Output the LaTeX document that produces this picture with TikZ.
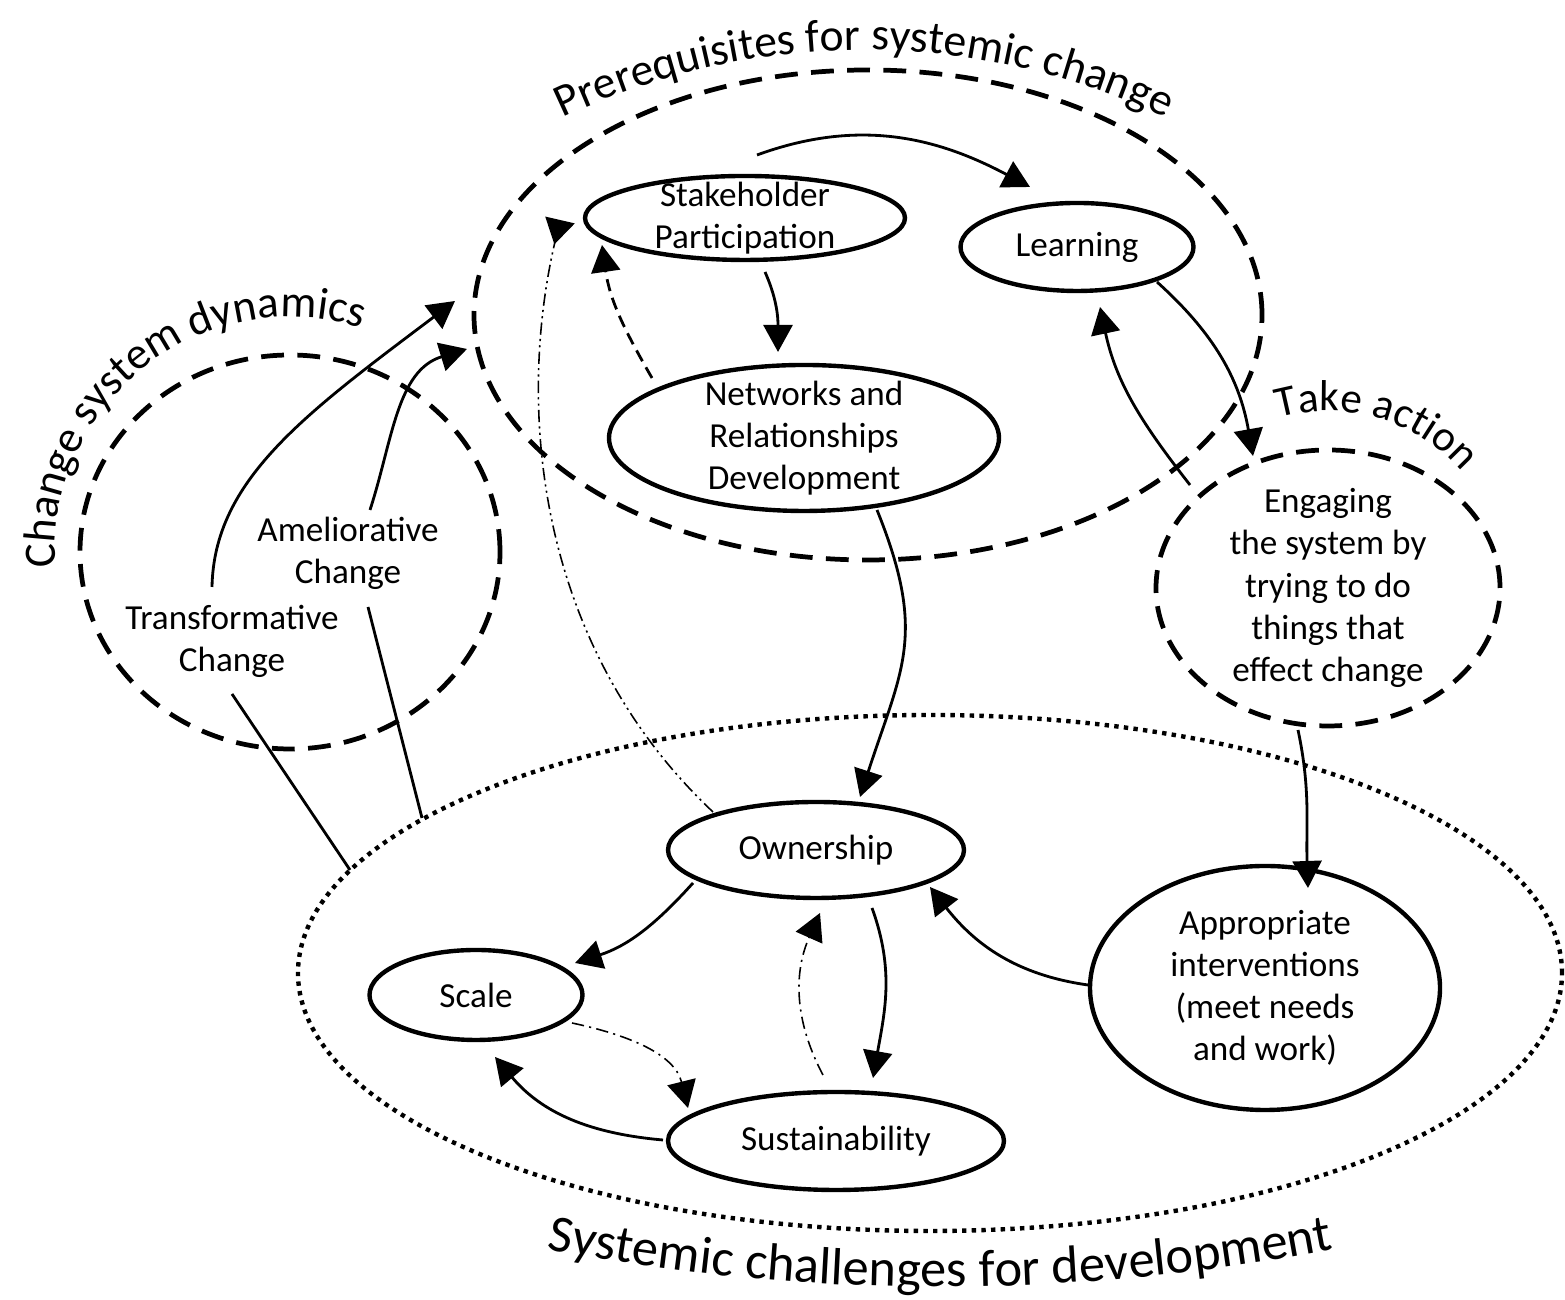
\documentclass[tikz,border=0pt]{standalone}
\usepackage{fontspec}
\setmainfont{Carlito}
\usetikzlibrary{arrows.meta, shapes.geometric, decorations.text}

\newcommand{\fontpre}{\fontsize{13}{15}\selectfont}
\newcommand{\fontcsd}{\fontsize{12.8}{15}\selectfont}
\newcommand{\fontact}{\fontsize{12.3}{15}\selectfont}
\newcommand{\fontchal}{\fontsize{14.9}{17}\selectfont}

\tikzset{
  box/.style={ellipse, draw, line width=1.25pt, inner xsep=0pt, inner ysep=-1.5mm, align=center},
  region/.style={ellipse, draw, line width=1.35pt, dash pattern=on 6.5pt off 3.8pt, inner xsep=0pt, inner ysep=-1.5mm, align=center},
  dots/.style={ellipse, draw, line width=1.25pt, dash pattern=on 1.25pt off 1.5pt},
  dashdot/.style={dash pattern=on 3.5pt off 1.5pt on 0.6pt off 1.5pt},
  dashdotdot/.style={dash pattern=on 3.5pt off 1.2pt on 0.6pt off 1.2pt on 0.6pt off 1.2pt},
  arch/.style={decoration={text along path, text align=center, text={#1}}, decorate}
}

\begin{document}
\begin{tikzpicture}[font=\fontsize{10}{12}\selectfont]
\useasboundingbox (0,0) rectangle (15.65,13);

% regions
\node[region, minimum width=7.88cm, minimum height=4.90cm] (prereq) at (8.68,9.85) {};
\node[region, minimum width=4.20cm, minimum height=3.94cm] (csd) at (2.90,7.48) {};
\node[region, minimum width=3.44cm, minimum height=2.76cm] (act) at (13.28,7.12) {Engaging\\the system by\\trying to do\\things that\\effect change};
\node[dots, minimum width=12.64cm, minimum height=5.16cm] (chal) at (9.30,3.27) {};

% boxes
\node[box, minimum width=3.20cm, minimum height=0.84cm] (sp) at (7.45,10.82) {Stakeholder\\Participation};
\node[box, minimum width=2.33cm, minimum height=0.88cm] (learn) at (10.77,10.53) {Learning};
\node[box, minimum width=3.90cm, minimum height=1.46cm] (net) at (8.04,8.62) {Networks and\\Relationships\\Development};
\node[box, minimum width=2.96cm, minimum height=0.96cm] (own) at (8.16,4.50) {Ownership};
\node[box, minimum width=2.13cm, minimum height=0.90cm] (scale) at (4.76,3.05) {Scale};
\node[box, minimum width=3.36cm, minimum height=0.98cm] (sus) at (8.36,1.59) {Sustainability};
\node[box, minimum width=3.50cm, minimum height=2.44cm] (appr) at (12.65,3.12) {Appropriate\\interventions\\(meet needs\\and work)};

\node[align=center] (amel) at (3.48,7.47) {Ameliorative\\Change};
\node[align=center] (trans) at (2.32,6.59) {Transformative\\Change};

% titles
\path[arch={|\fontpre|Prerequisites for systemic change}] (8.64,5.50) ++(125:7) arc[start angle=125, end angle=55, radius=7];
\path[arch={|\fontcsd|Change system dynamics}] (csd.center) ++(200:2.35) arc[start angle=200, end angle=56, radius=2.35];
\path[arch={|\fontact|Take action}] (act.center) ++(120:1.77) arc[start angle=120, end angle=27, radius=1.77];
\path[arch={|\fontchal|Systemic challenges for development}] (9.40,20.73) ++(255:20.6) arc[start angle=255, end angle=285, radius=20.6];

\begin{scope}[>={Triangle[length=2.7mm,width=2.9mm]}, line width=0.8pt]
    \draw[->] ([shift={(.12,.63)}]sp.center) to[out=20,in=152] ([shift={(-.47,.60)}]learn.center);
    \draw[->] ([shift={(.80,-.35)}]learn.center) to[out=-42,in=100] ([shift={(-.75,1.32)}]act.center);
    \draw[->] ([shift={(-1.38,1.03)}]act.center) to[out=128,in=-78] ([shift={(.23,-.60)}]learn.center);
    \draw[->] ([shift={(.20,-.54)}]sp.center) to[out=-66,in=90] ([shift={(-.26,.86)}]net.center);
    \draw[->, dash pattern=on 3.5pt off 2pt] ([shift={(-1.52,.60)}]net.center) to[out=120,in=-82] ([shift={(-1.43,-.27)}]sp.center);
    \draw[->] ([shift={(.73,-.72)}]net.center) to[out=-68,in=72,looseness=1.2] ([shift={(.44,.53)}]own.center);
    \draw[->] ([shift={(-.30,-1.42)}]act.center) to[out=-78,in=92] ([shift={(.43,1.00)}]appr.center);
    \draw[->] ([shift={(-1.77,.03)}]appr.center) to[out=172,in=-52] ([shift={(1.14,-.37)}]own.center);
    \draw[->] ([shift={(-1.23,-.33)}]own.center) to[out=-132,in=18] ([shift={(.99,.32)}]scale.center);
    \draw[->] ([shift={(.56,-.58)}]own.center) to[out=-70,in=80] ([shift={(.37,.63)}]sus.center);
    \draw[->] ([shift={(-1.73,.01)}]sus.center) to[out=175,in=-50] ([shift={(.19,-.62)}]scale.center);
    \draw[->] ([shift={(-.20,.54)}]trans.center) .. controls +(.02,1.07) and +(-1.50,-1.13) .. ([shift={(-4.13,.14)}]prereq.center);
    \draw[->] ([shift={(.22,.43)}]amel.center) to[out=72,in=197] ([shift={(-4.01,-.34)}]prereq.center);
    \draw ([shift={(0,-.53)}]trans.center) -- ([shift={(-5.80,1.03)}]chal.center);
    \draw ([shift={(.20,-.54)}]amel.center) -- ([shift={(-5.08,1.55)}]chal.center);
\end{scope}

\begin{scope}[>={Triangle[length=2.7mm,width=2.9mm]}, line width=0.45pt]
    \draw[-{Triangle[reversed,length=2.5mm,width=3mm]}, dashdotdot] ([shift={(-1.03,.38)}]own.center) .. controls +(-1.73,1.63) and +(-.45,-1.95) .. ([shift={(-1.85,-.02)}]sp.center);
    \draw[->, dashdot] ([shift={(.96,-.28)}]scale.center) to[out=-12,in=104] ([shift={(-1.48,.33)}]sus.center);
    \draw[->, dashdot] ([shift={(-.13,.66)}]sus.center) to[out=118,in=-114] ([shift={(.04,-.63)}]own.center);
\end{scope}
\end{tikzpicture}
\end{document}
